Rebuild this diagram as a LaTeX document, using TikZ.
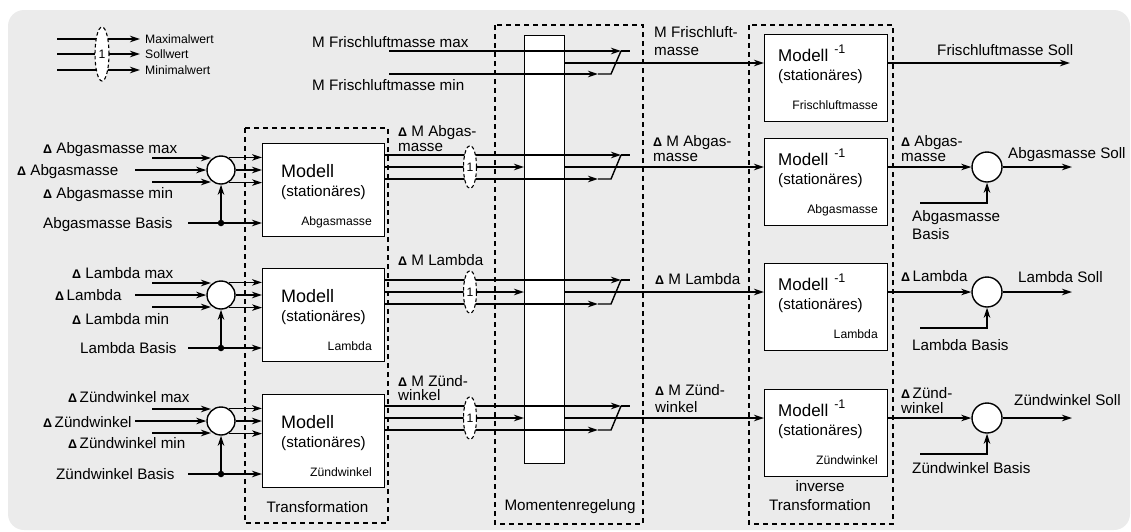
\documentclass[tikz,border=0pt]{standalone}
\usepackage{fontspec}
\setmainfont{Liberation Sans}
\usetikzlibrary{arrows.meta,shapes.geometric,calc}
\definecolor{bgc}{RGB}{235,235,235}
\newcommand\fN{\fontsize{15.2}{16}\selectfont}
\newcommand\fS{\fontsize{12.2}{13}\selectfont}
\newcommand\fM{\fontsize{18}{20}\selectfont}
\newcommand\fMi{\fontsize{17}{19}\selectfont}
\newcommand\dlt{{\fontsize{12.5}{13}\selectfont\bfseries Δ}}
\tikzset{
 >={Stealth[length=10pt,width=6.5pt,inset=3pt]},
 conn/.style={line width=1.4pt},
 dframe/.style={line width=1.2pt, dash pattern=on 5pt off 4pt},
 mbox/.style={draw, line width=1.4pt, fill=white, anchor=north west, inner sep=0, minimum width=122pt, minimum height=93pt},
 ibox/.style={mbox, minimum width=123pt, minimum height=87pt},
 sumc/.style={circle, draw, line width=1.4pt, fill=white, inner sep=0, minimum size=28pt},
 grp/.style={ellipse, draw, fill=white, line width=1.1pt, dash pattern=on 3.5pt off 2.5pt, inner sep=0, minimum width=13pt, minimum height=43pt, font=\fS},
 lb/.style={inner sep=0, anchor=base west, font=\fN},
 lbs/.style={inner sep=0, anchor=base west, font=\fS},
 jdot/.style={circle, fill, inner sep=0, minimum size=6.5pt},
}
\begin{document}
\begin{tikzpicture}[x=1pt,y=-1pt]
\useasboundingbox (0,0) rectangle (1131,531);
\fill[bgc, rounded corners=16pt] (8,10) rectangle (1130,530);

% dashed frames
\draw[dframe] (245,128) rectangle (388,523);
\draw[dframe] (495,25) rectangle (643,524);
\draw[dframe] (749,25) rectangle (893,524);
\node[lb, anchor=base] (tT) at (317.5,512) {Transformation};
\node[lb, anchor=base] (tM) at (570,510) {Momentenregelung};
\node[lb, anchor=base] (tI1) at (820,491.5) {inverse};
\node[lb, anchor=base] (tI2) at (820,510) {Transformation};

% column
\node[draw, line width=1.4pt, fill=white, anchor=north west, inner sep=0, minimum width=40pt, minimum height=428pt] (col) at (524,35) {};

% legend
\foreach \i/\y/\t in {1/39/Maximalwert, 2/54/Sollwert, 3/70/Minimalwert} {
  \coordinate (lgs\i) at (57,\y);
  \coordinate (lge\i) at (140,\y);
  \draw[conn,->] (lgs\i) -- (lge\i);
  \node[lbs] (lgt\i) at (145,\y+4.4) {\t};
}
\node[grp, minimum height=54pt, minimum width=14pt] (lgE) at (102,54) {1};

% Frischluft
\node[lb] (fmaxL) at (312,47.5) {M Frischluftmasse max};
\node[lb] (fminL) at (312,90.5) {M Frischluftmasse min};
\coordinate (fmaxS) at (389,51); \coordinate (fmaxT) at (621,51); \coordinate (fmaxE) at (630,51);
\coordinate (fminS) at (389,74); \coordinate (fminT) at (598,74); \coordinate (fminK) at (611,74);
\draw[conn,->] (fmaxS) -- (fmaxT); \draw[conn] (fmaxT) -- (fmaxE);
\draw[conn,->] (fminS) -- (fminT); \draw[conn] (fminT) -- (fminK) -- (fmaxT);
\coordinate (omF) at (600,63);

% inverse boxes
\foreach \r/\m/\sm in {F/63/Frischluftmasse, A/167/Abgasmasse, L/292/Lambda, Z/418/Zündwinkel} {
  \node[ibox] (i\r) at (764,\m-29) {};
  \node[font=\fMi, inner sep=0, anchor=base west] (ivm\r) at (778,\m-1.3) {Modell\hspace{6pt}\raisebox{8.7pt}{\fontsize{12.5}{13}\selectfont -1}};
  \node[lb] (ivs\r) at (778,\m+17.7) {(stationäres)};
  \node[lbs, anchor=base east] (ivl\r) at (878,\m+46) {\sm};
}
\draw[conn,->] (col.east |- omF) -- (iF.west |- omF);
\coordinate (soF) at (1070,63);
\draw[conn,->] (iF.east |- omF) -- (soF);
\node[lb] (sollF) at (937,55) {Frischluftmasse Soll};
\node[lb] (mrF1) at (654,37.5) {M Frischluft-};
\node[lb] (mrF2) at (654,55) {masse};

% left rows
\foreach \r/\cy/\sm in {A/170/Abgasmasse, L/295/Lambda, Z/421/Zündwinkel} {
  \pgfmathsetmacro\m{\cy-3}
  \node[sumc] (c\r) at (221,\cy) {};
  \node[mbox] (b\r) at (262,\cy-27) {};
  \node[font=\fM, inner sep=0, anchor=base west] (bm\r) at (281,\cy+7.7) {Modell};
  \node[lb] (bs\r) at (281,\cy+26.7) {(stationäres)};
  \node[lbs, anchor=base east] (bl\r) at (372,\cy+55) {\sm};
  % inputs
  \coordinate (ia\r) at (152,\cy-12); \coordinate (iat\r) at (211,\cy-12);
  \coordinate (im\r) at (135,\cy);
  \coordinate (ib\r) at (152,\cy+12); \coordinate (ibt\r) at (211,\cy+12);
  \draw[conn,->] (ia\r) -- (iat\r);
  \draw[conn,->] (im\r) -- (c\r);
  \draw[conn,->] (ib\r) -- (ibt\r);
  \draw[conn,->] (c\r.59) -- (b\r.west |- c\r.59);
  \draw[conn,->] (c\r) -- (b\r.west |- c\r);
  \draw[conn,->] (c\r.-59) -- (b\r.west |- c\r.-59);
  % basis
  \coordinate (bb\r) at (188,\cy+53);
  \node[jdot] (d\r) at (221,\cy+53) {};
  \draw[conn,->] (bb\r) -- (b\r.west |- bb\r);
  \draw[conn,->] (d\r.center) -- (c\r);
  % outputs through momentenregelung
  \coordinate (oa\r) at (384,\m-12); \coordinate (oat\r) at (621,\m-12); \coordinate (oae\r) at (630,\m-12);
  \coordinate (om\r) at (384,\m);
  \coordinate (ob\r) at (384,\m+12); \coordinate (obt\r) at (598,\m+12); \coordinate (obk\r) at (611,\m+12);
  \draw[conn,->] (oa\r) -- (oat\r); \draw[conn] (oat\r) -- (oae\r);
  \draw[conn,->] (om\r) -- (col.west |- om\r);
  \draw[conn,->] (ob\r) -- (obt\r); \draw[conn] (obt\r) -- (obk\r) -- (oat\r);
  \node[grp] (g\r) at (470,\m) {1};
  \draw[conn,->] (col.east |- om\r) -- (i\r.west |- om\r);
  % right summation
  \node[sumc, minimum size=30pt] (r\r) at (987,\m) {};
  \draw[conn,->] (i\r.east |- om\r) -- (r\r);
  \coordinate (so\r) at (1072,\m);
  \draw[conn,->] (r\r) -- (so\r);
  \coordinate (rb\r) at (920,\m+36);
  \draw[conn,->] (rb\r) -- (r\r.south |- rb\r) -- (r\r.south);
}

% left labels
\node[lb] (la1) at (43,153.5) {\dlt{} Abgasmasse max};
\node[lb] (la2) at (17,175.5) {\dlt{} Abgasmasse};
\node[lb] (la3) at (43,198.5) {\dlt{} Abgasmasse min};
\node[lb] (la4) at (43,228.5) {Abgasmasse Basis};
\node[lb] (ll1) at (72,278.5) {\dlt{} Lambda max};
\node[lb] (ll2) at (55,300.5) {\dlt\,Lambda};
\node[lb] (ll3) at (72,324.5) {\dlt{} Lambda min};
\node[lb] (ll4) at (80,353.5) {Lambda Basis};
\node[lb] (lz1) at (68,402.5) {\dlt\,Zündwinkel max};
\node[lb] (lz2) at (43,427.5) {\dlt\,Zündwinkel};
\node[lb] (lz3) at (68,448.5) {\dlt\,Zündwinkel min};
\node[lb] (lz4) at (56,479.5) {Zündwinkel Basis};

% middle labels
\node[lb] (mla1) at (398,136) {\dlt{} M Abgas-};
\node[lb] (mla2) at (398,151) {masse};
\node[lb] (mll) at (398,265.5) {\dlt{} M Lambda};
\node[lb] (mlz1) at (398,386) {\dlt{} M Zünd-};
\node[lb] (mlz2) at (398,400) {winkel};
\node[lb] (mra1) at (653,146) {\dlt{} M Abgas-};
\node[lb] (mra2) at (653,161) {masse};
\node[lb] (mrl) at (655,284.5) {\dlt{} M Lambda};
\node[lb] (mrz1) at (655,395) {\dlt{} M Zünd-};
\node[lb] (mrz2) at (655,412.5) {winkel};

% right labels
\node[lb] (ra1) at (901,146.5) {\dlt{} Abgas-};
\node[lb] (ra2) at (901,161) {masse};
\node[lb] (rl) at (901,281.5) {\dlt\,Lambda};
\node[lb] (rz1) at (901,398.5) {\dlt\,Zünd-};
\node[lb] (rz2) at (901,413) {winkel};
\node[lb] (sollA) at (1008,158.5) {Abgasmasse Soll};
\node[lb] (sollL) at (1018,282.7) {Lambda Soll};
\node[lb] (sollZ) at (1014,405) {Zündwinkel Soll};
\node[lb] (rba1) at (912,221.7) {Abgasmasse};
\node[lb] (rba2) at (912,239.3) {Basis};
\node[lb] (rbl) at (912,350) {Lambda Basis};
\node[lb] (rbz) at (912,473.3) {Zündwinkel Basis};
\end{tikzpicture}
\end{document}
